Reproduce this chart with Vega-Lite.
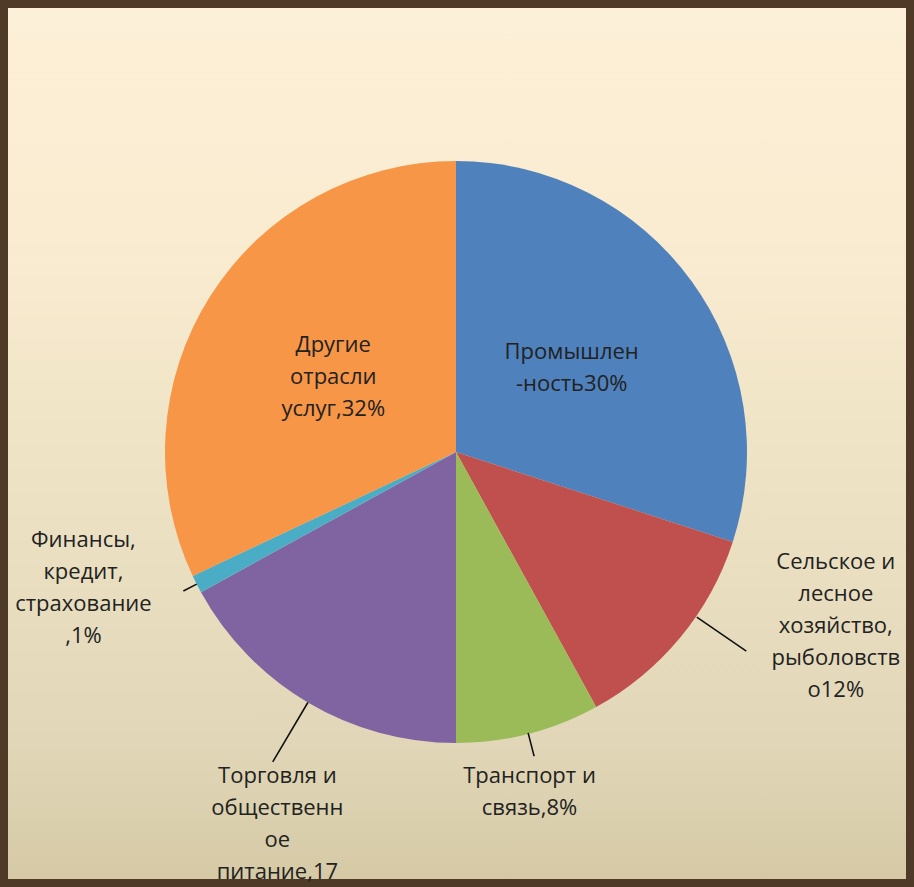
{
  "$schema": "https://vega.github.io/schema/vega-lite/v6.json",
  "width": 914,
  "height": 887,
  "autosize": {"type": "fit", "contains": "padding"},
  "padding": 0,
  "background": "#fdf0d8",
  "config": {"view": {"stroke": null}},
  "datasets": {
    "shares": [
      {"k": "Промышленность", "v": 30, "o": 1, "label": "Промышлен\n-ность30%"},
      {"k": "Сельское и лесное хозяйство, рыболовство", "v": 12, "o": 2, "label": "Сельское и\nлесное\nхозяйство,\nрыболовств\nо12%"},
      {"k": "Транспорт и связь", "v": 8, "o": 3, "label": "Транспорт и\nсвязь,8%"},
      {"k": "Торговля и общественное питание", "v": 17, "o": 4, "label": "Торговля и\nобщественн\nое\nпитание,17"},
      {"k": "Финансы, кредит, страхование", "v": 1, "o": 5, "label": "Финансы,\nкредит,\nстрахование\n,1%"},
      {"k": "Другие отрасли услуг", "v": 32, "o": 6, "label": "Другие\nотрасли\nуслуг,32%"}
    ]
  },
  "layer": [
    {
      "data": {"values": [{"bg": 1}]},
      "mark": {
        "type": "rect",
        "stroke": "#4e3a26",
        "strokeWidth": 8,
        "fill": {
          "gradient": "linear",
          "x1": 0, "y1": 0, "x2": 0, "y2": 1,
          "stops": [
            {"offset": 0, "color": "#fdf0d8"},
            {"offset": 0.3, "color": "#f8ebcf"},
            {"offset": 0.84, "color": "#e1d7b8"},
            {"offset": 1, "color": "#d5c9a5"}
          ]
        }
      },
      "encoding": {}
    },
    {
      "data": {"name": "shares"},
      "transform": [
        {"stack": "v", "groupby": [], "sort": [{"field": "o", "order": "ascending"}], "as": ["t0", "t1"]},
        {"calculate": "(datum.t0 + datum.t1) / 2", "as": "tm"}
      ],
      "layer": [
        {
          "mark": {"type": "arc", "radius": 291, "x": {"expr": "width/2 - 1"}, "y": {"expr": "height/2 + 8.5"}},
          "encoding": {
            "theta": {"field": "t0", "type": "quantitative", "scale": {"domain": [0, 100]}},
            "theta2": {"field": "t1"},
            "color": {
              "field": "k",
              "type": "nominal",
              "legend": null,
              "scale": {
                "domain": ["Промышленность", "Сельское и лесное хозяйство, рыболовство", "Транспорт и связь", "Торговля и общественное питание", "Финансы, кредит, страхование", "Другие отрасли услуг"],
                "range": ["#4f81bd", "#c0504d", "#9bbb59", "#8064a2", "#4bacc6", "#f79646"]
              }
            }
          }
        },
        {
          "transform": [{"filter": "datum.o == 2"}],
          "mark": {"type": "arc", "x": {"expr": "width/2 - 1"}, "y": {"expr": "height/2 + 8.5"}, "radius": 352, "radius2": 292, "thetaOffset": -0.09, "theta2Offset": -0.09, "stroke": "#111111", "strokeWidth": 1.6, "fill": null},
          "encoding": {
            "theta": {"field": "tm", "type": "quantitative", "scale": {"domain": [0, 100]}},
            "theta2": {"field": "tm"}
          }
        },
        {
          "transform": [{"filter": "datum.o == 3"}],
          "mark": {"type": "arc", "x": {"expr": "width/2 - 1"}, "y": {"expr": "height/2 + 8.5"}, "radius": 314, "radius2": 290, "stroke": "#111111", "strokeWidth": 1.6, "fill": null},
          "encoding": {
            "theta": {"field": "tm", "type": "quantitative", "scale": {"domain": [0, 100]}},
            "theta2": {"field": "tm"}
          }
        },
        {
          "transform": [{"filter": "datum.o == 4"}],
          "mark": {"type": "arc", "x": {"expr": "width/2 - 1"}, "y": {"expr": "height/2 + 8.5"}, "radius": 360, "radius2": 291, "stroke": "#111111", "strokeWidth": 1.6, "fill": null},
          "encoding": {
            "theta": {"field": "tm", "type": "quantitative", "scale": {"domain": [0, 100]}},
            "theta2": {"field": "tm"}
          }
        },
        {
          "transform": [{"filter": "datum.o == 5"}],
          "mark": {"type": "arc", "x": {"expr": "width/2 - 1"}, "y": {"expr": "height/2 + 8.5"}, "radius": 306, "radius2": 291, "stroke": "#111111", "strokeWidth": 1.6, "fill": null},
          "encoding": {
            "theta": {"field": "tm", "type": "quantitative", "scale": {"domain": [0, 100]}},
            "theta2": {"field": "tm"}
          }
        },
        {
          "transform": [{"filter": "datum.o == 1"}],
          "mark": {"type": "text", "x": {"expr": "width/2 - 1"}, "y": {"expr": "height/2 + 8.5"}, "radius": 143, "dy": -16, "font": "Open Sans", "fontSize": 22, "lineHeight": 32, "lineBreak": "\n", "align": "center", "baseline": "middle", "fill": "#222222"},
          "encoding": {
            "theta": {"field": "tm", "type": "quantitative", "scale": {"domain": [0, 100]}},
            "text": {"field": "label"}
          }
        },
        {
          "transform": [{"filter": "datum.o == 6"}],
          "mark": {"type": "text", "x": {"expr": "width/2 - 1"}, "y": {"expr": "height/2 + 8.5"}, "radius": 143, "dx": -2, "dy": -30, "font": "Open Sans", "fontSize": 22, "lineHeight": 32, "lineBreak": "\n", "align": "center", "baseline": "middle", "fill": "#222222"},
          "encoding": {
            "theta": {"field": "tm", "type": "quantitative", "scale": {"domain": [0, 100]}},
            "text": {"field": "label"}
          }
        },
        {
          "transform": [{"filter": "datum.o == 2"}],
          "mark": {"type": "text", "x": {"expr": "width/2 - 1"}, "y": {"expr": "height/2 + 8.5"}, "radius": 380, "dx": 87, "dy": -132, "font": "Open Sans", "fontSize": 22, "lineHeight": 32, "lineBreak": "\n", "align": "center", "baseline": "middle", "fill": "#222222"},
          "encoding": {
            "theta": {"field": "tm", "type": "quantitative", "scale": {"domain": [0, 100]}},
            "text": {"field": "label"}
          }
        },
        {
          "transform": [{"filter": "datum.o == 3"}],
          "mark": {"type": "text", "x": {"expr": "width/2 - 1"}, "y": {"expr": "height/2 + 8.5"}, "radius": 340, "dx": -11, "dy": -5, "font": "Open Sans", "fontSize": 22, "lineHeight": 32, "lineBreak": "\n", "align": "center", "baseline": "middle", "fill": "#222222"},
          "encoding": {
            "theta": {"field": "tm", "type": "quantitative", "scale": {"domain": [0, 100]}},
            "text": {"field": "label"}
          }
        },
        {
          "transform": [{"filter": "datum.o == 4"}],
          "mark": {"type": "text", "x": {"expr": "width/2 - 1"}, "y": {"expr": "height/2 + 8.5"}, "radius": 400, "dx": 25, "dy": -20, "font": "Open Sans", "fontSize": 22, "lineHeight": 32, "lineBreak": "\n", "align": "center", "baseline": "middle", "fill": "#222222"},
          "encoding": {
            "theta": {"field": "tm", "type": "quantitative", "scale": {"domain": [0, 100]}},
            "text": {"field": "label"}
          }
        },
        {
          "transform": [{"filter": "datum.o == 5"}],
          "mark": {"type": "text", "x": {"expr": "width/2 - 1"}, "y": {"expr": "height/2 + 8.5"}, "radius": 380, "dx": -34, "dy": -85, "font": "Open Sans", "fontSize": 22, "lineHeight": 32, "lineBreak": "\n", "align": "center", "baseline": "middle", "fill": "#222222"},
          "encoding": {
            "theta": {"field": "tm", "type": "quantitative", "scale": {"domain": [0, 100]}},
            "text": {"field": "label"}
          }
        }
      ]
    }
  ]
}
